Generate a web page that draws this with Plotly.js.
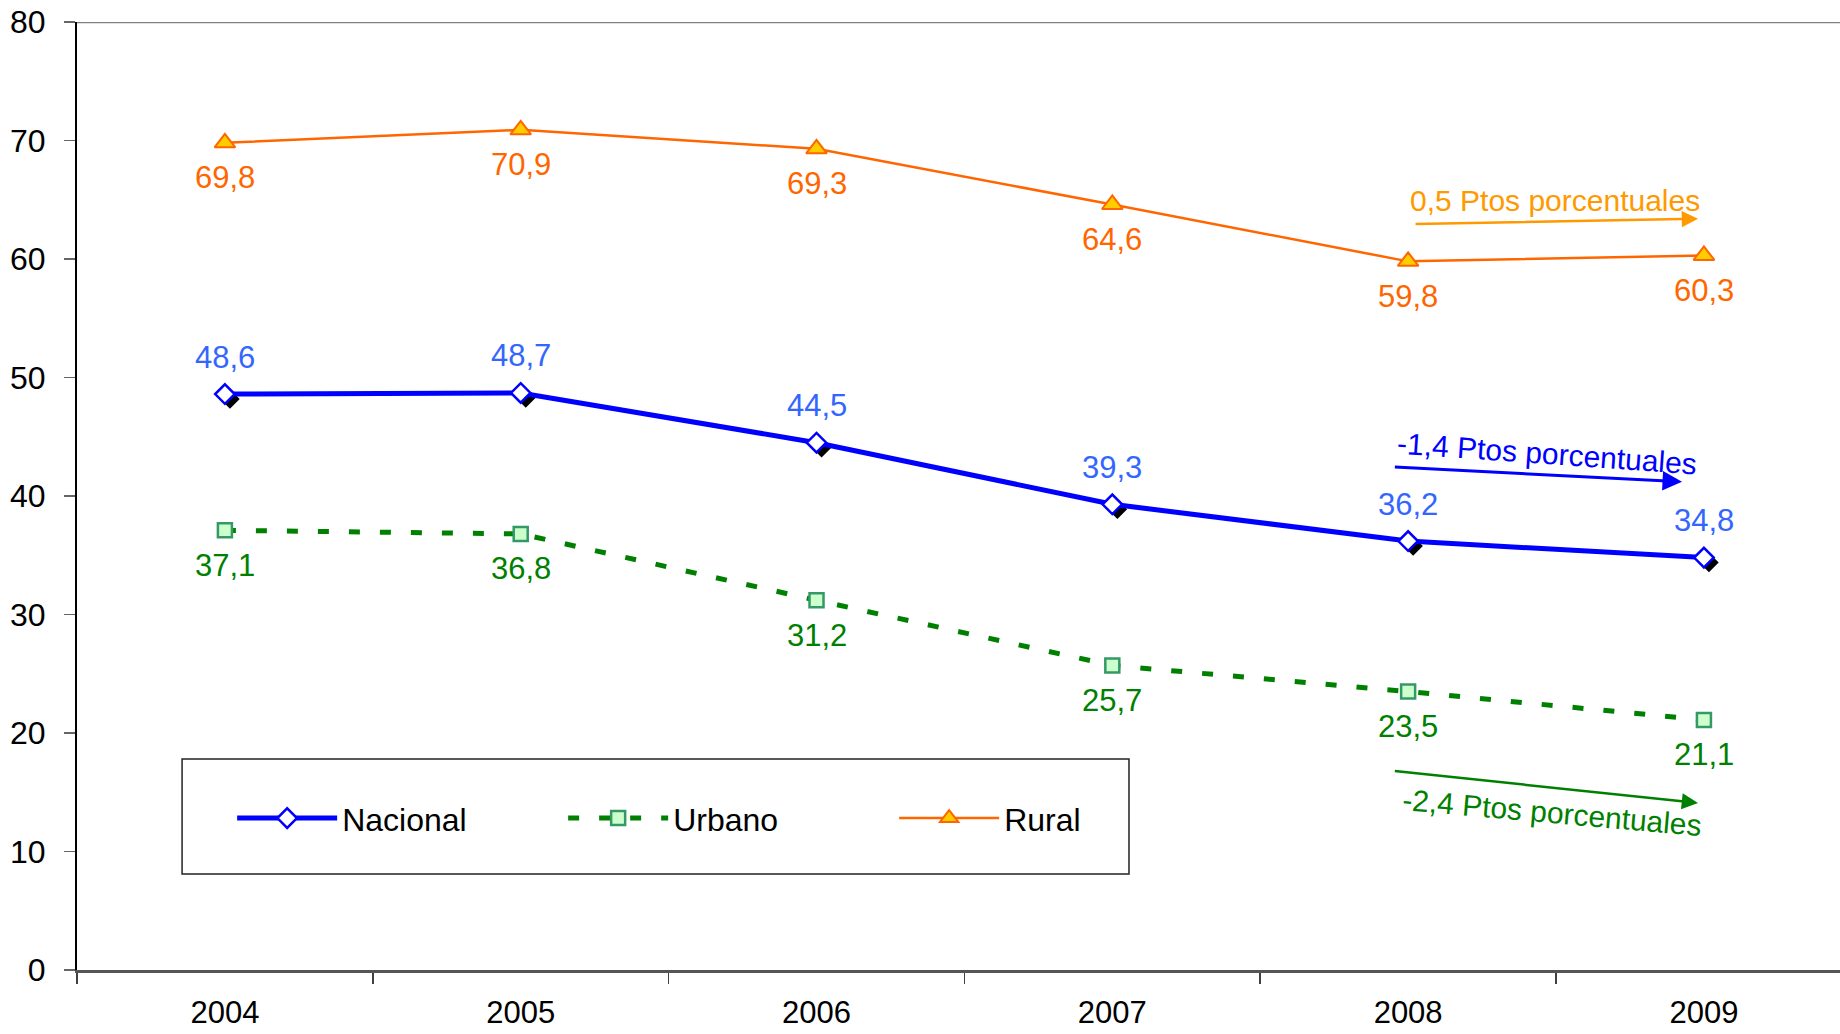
<!DOCTYPE html>
<html><head><meta charset="utf-8">
<script src="https://cdn.plot.ly/plotly-3.0.1.min.js"></script>
<style>html,body{margin:0;padding:0;background:#fff;overflow:hidden}</style>
</head><body><div id="chart" style="width:1840px;height:1034px"></div>
<script>
const years = ['2004','2005','2006','2007','2008','2009'];
const nacional = [48.6, 48.7, 44.5, 39.3, 36.2, 34.8];
const urbano = [37.1, 36.8, 31.2, 25.7, 23.5, 21.1];
const rural = [69.8, 70.9, 69.3, 64.6, 59.8, 60.3];
const yTicks = [0, 10, 20, 30, 40, 50, 60, 70, 80];
const seriesNames = ['Nacional', 'Urbano', 'Rural'];
const changeLabels = ['-1,4 Ptos porcentuales', '-2,4 Ptos porcentuales', '0,5 Ptos porcentuales'];

const FONT = 'Arial, "Liberation Sans", sans-serif';
const fmt = v => v.toFixed(1).replace('.', ',');
const xRange = [-0.5, 5.46];
const shadowDx = 0.017, shadowDy = 0.42;

const traces = [
  { // shadow of Nacional markers (drawn on shifted hidden axes)
    x: years, y: nacional, xaxis: 'x', yaxis: 'y', type: 'scatter', mode: 'markers',
    marker: {symbol: 'diamond', size: 15, color: '#000000', line: {width: 0}},
    showlegend: false, hoverinfo: 'skip'
  },
  {
    x: years, y: nacional, xaxis: 'x2', yaxis: 'y2', name: seriesNames[0], type: 'scatter', mode: 'lines+markers',
    line: {color: '#0000FF', width: 5},
    marker: {symbol: 'diamond', size: 15, color: '#FFFFFF', line: {color: '#0000FF', width: 2.5}}
  },
  {
    x: years, y: urbano, xaxis: 'x2', yaxis: 'y2', name: seriesNames[1], type: 'scatter', mode: 'lines+markers',
    line: {color: '#008000', width: 5, dash: '11px,20px'},
    marker: {symbol: 'square', size: 14, color: '#CCFFCC', line: {color: '#339966', width: 2.5}}
  },
  {
    x: years, y: rural, xaxis: 'x2', yaxis: 'y2', name: seriesNames[2], type: 'scatter', mode: 'lines+markers',
    line: {color: '#FF6600', width: 2.5},
    marker: {symbol: 'triangle-up', size: 18, color: '#FFCC00', line: {color: '#FF6600', width: 2}}
  }
];

const annotations = [];
function addLabels(vals, color, yshift) {
  vals.forEach((v, i) => annotations.push({
    x: i, y: v, xref: 'x2', yref: 'y2', text: fmt(v), showarrow: false,
    yshift: yshift, font: {family: FONT, size: 31, color: color}
  }));
}
addLabels(nacional, '#3366FF', 37);
addLabels(urbano, '#008000', -35);
addLabels(rural, '#FF6600', -35);

// change arrows
const arrows = [
  {from: [3.95, 42.45], to: [4.926, 41.2], color: '#0000FF', w: 3, text: [4.47, 43.6], ang: 4, label: changeLabels[0], tcolor: '#0000FF'},
  {from: [3.95, 16.8], to: [4.98, 14.1], color: '#008000', w: 2.5, text: [4.485, 13.3], ang: 5, label: changeLabels[1], tcolor: '#008000'},
  {from: [4.02, 62.95], to: [4.98, 63.4], color: '#FF9900', w: 2.5, text: [4.497, 64.9], ang: 0, label: changeLabels[2], tcolor: '#FF9900'}
];
arrows.forEach(a => {
  annotations.push({
    x: a.to[0], y: a.to[1], ax: a.from[0], ay: a.from[1], xref: 'x2', yref: 'y2', axref: 'x2', ayref: 'y2',
    text: '', showarrow: true, arrowhead: 2, arrowsize: 1.3, arrowwidth: a.w, arrowcolor: a.color, standoff: 0
  });
  annotations.push({
    x: a.text[0], y: a.text[1], xref: 'x2', yref: 'y2', text: a.label, showarrow: false,
    textangle: a.ang, font: {family: FONT, size: 30, color: a.tcolor}
  });
});

const layout = {
  width: 1840, height: 1034,
  margin: {l: 77, r: 0, t: 22, b: 64},
  paper_bgcolor: '#FFFFFF', plot_bgcolor: '#FFFFFF',
  font: {family: FONT, size: 30, color: '#000000'},
  showlegend: true,
  xaxis: {type: 'category', categoryarray: years, range: [xRange[0] - shadowDx, xRange[1] - shadowDx], visible: false, fixedrange: true},
  yaxis: {range: [shadowDy, 80 + shadowDy], visible: false, fixedrange: true},
  xaxis2: {
    type: 'category', categoryarray: years, range: xRange, overlaying: 'x', anchor: 'y2',
    tickson: 'boundaries', ticks: 'outside', ticklen: 11, tickwidth: 1.5, tickcolor: '#404040',
    showline: true, linecolor: '#555555', linewidth: 2.5, showgrid: false, zeroline: false,
    tickfont: {family: FONT, size: 31, color: '#000000'}, ticklabelstandoff: 13
  },
  yaxis2: {
    range: [0, 80], tickvals: yTicks, ticktext: yTicks.map(String), overlaying: 'y', anchor: 'x2',
    ticks: 'outside', ticklen: 11, tickwidth: 1.5, tickcolor: '#666666',
    showline: true, linecolor: '#000000', linewidth: 2, showgrid: false, zeroline: false,
    tickfont: {family: FONT, size: 32, color: '#000000'}, ticklabelstandoff: 12
  },
  legend: {
    orientation: 'h', x: 0.088, xanchor: 'left', y: 0.16, yanchor: 'middle',
    bgcolor: 'rgba(0,0,0,0)', borderwidth: 0, itemwidth: 100, entrywidth: 216,
    font: {family: FONT, size: 32, color: '#000000'}
  },
  shapes: [
    {type: 'line', xref: 'paper', yref: 'y2', x0: 0, x1: 1, y0: 80, y1: 80, line: {color: '#808080', width: 2.5}},
    {type: 'rect', xref: 'paper', yref: 'paper', x0: 0.0596, x1: 0.5967, y0: 0.1013, y1: 0.2226,
     line: {color: '#222222', width: 1.5}, fillcolor: 'rgba(0,0,0,0)', layer: 'below'}
  ],
  annotations: annotations
};

Plotly.newPlot('chart', traces, layout, {displayModeBar: false, staticPlot: true});
</script></body></html>
